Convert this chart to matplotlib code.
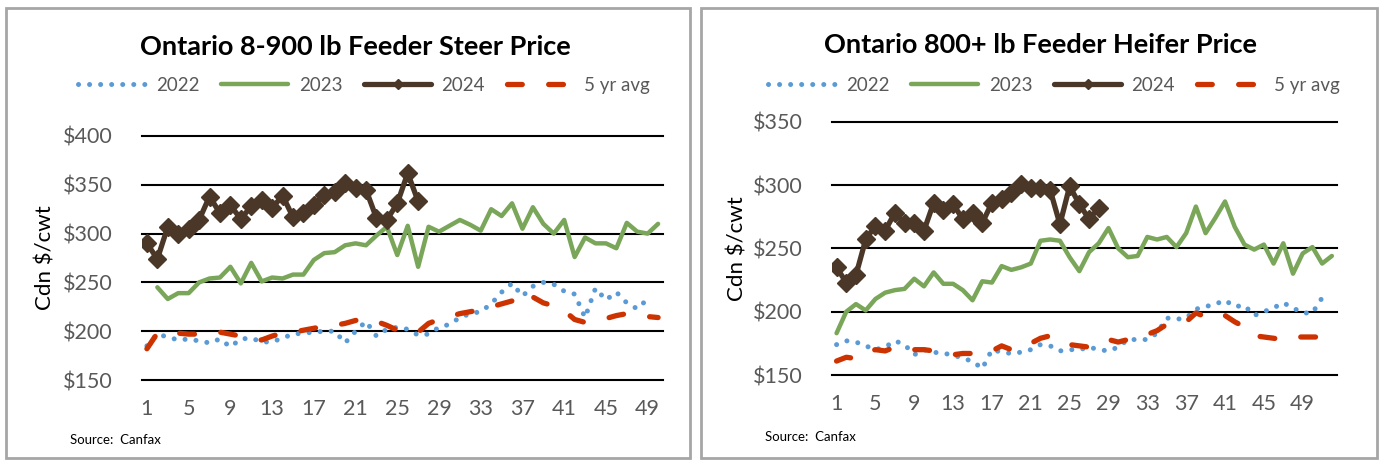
import matplotlib
matplotlib.use("Agg")
import matplotlib.pyplot as plt
from matplotlib.patches import Rectangle
from matplotlib.lines import Line2D

plt.rcParams['font.family'] = ['Lato', 'DejaVu Sans']

# ---- data (weekly prices, Cdn $/cwt) ----
# steer chart runs over 50 weeks, heifer chart over 52
steer_2022 = [185, 197, 194, 191, 192, 190, 188, 192, 184, 192, 193, 189, 189, 193,
              197, 198, 199, 200, 200, 188, 200, 210, 195, 202, 204, 202, 196, 197,
              204, 207, 214, 218, 220, 228, 240, 249, 236, 246, 250, 248, 241, 238,
              214, 244, 232, 240, 229, 223, 233]
steer_2023 = [None, 245, 233, 239, 239, 250, 254, 255, 266, 249, 270, 251, 255, 254,
              258, 258, 273, 280, 281, 288, 290, 288, 298, 307, 278, 308, 266, 307,
              302, 308, 314, 309, 303, 325, 318, 331, 305, 327, 310, 300, 314, 276,
              296, 290, 290, 285, 311, 302, 300, 310]
steer_2024 = [290, 274, 307, 300, 305, 314, 338, 321, 329, 315, 328, 334, 326, 339,
              317, 321, 329, 340, 343, 352, 347, 345, 316, 314, 331, 362, 333]
steer_avg = [182, 198, 198, 198, 197, 197, 198, 199, 197, 195, 192, 191, 195, 198,
             199, 201, 203, 205, 206, 208, 211, 213, 210, 206, 201, 200, 199, 208,
             212, 215, 218, 220, 222, 225, 228, 231, 226, 235, 229, 226, 221, 212,
             209, 211, 213, 216, 218, 216, 215, 214]

heifer_2022 = [174, 177, 176, 173, 170, 172, 177, 174, 166, 170, 168, 167, 166, 163,
               161, 155, 170, 168, 167, 168, 170, 174, 173, 169, 170, 170, 172, 170,
               169, 172, 178, 178, 178, 183, 195, 194, 195, 202, 204, 206, 209, 204,
               205, 197, 200, 203, 207, 203, 199, 199, 211]
heifer_2023 = [183, 200, 206, 201, 210, 215, 217, 218, 226, 220, 231, 222, 222, 217,
               209, 224, 223, 236, 233, 235, 238, 256, 257, 256, 243, 232, 247, 254,
               266, 250, 243, 244, 259, 257, 259, 251, 262, 283, 262, 274, 287, 267,
               253, 249, 253, 238, 254, 230, 246, 251, 238, 244]
heifer_2024 = [235, 223, 229, 257, 268, 264, 278, 270, 270, 264, 286, 280, 285, 273,
               278, 270, 286, 289, 294, 301, 298, 298, 296, 269, 299, 285, 273, 282]
heifer_avg = [161, 164, 163, 168, 170, 169, 172, 170, 170, 170, 169, 167, 166, 167,
              167, 168, 169, 173, 170, 171, 175, 179, 181, 177, 174, 173, 172, 174,
              178, 176, 178, 180, 182, 185, 190, 191, 192, 199, 196, 199, 197, 192,
              188, 181, 180, 179, 178, 180, 180, 180, 180, 180]

week_ticks = list(range(1, 50, 4))
series_labels = ['2022', '2023', '2024', '5 yr avg']

C_BLUE = '#5B9BD5'
C_GREEN = '#7AA65A'
C_BROWN = '#4A3728'
C_RED = '#CC3300'
C_TXT = '#595959'

W, H = 1380, 461
fig = plt.figure(figsize=(W / 100, H / 100), dpi=100)

# panel borders
for x0, x1 in [(6, 690), (701, 1377)]:
    fig.patches.append(Rectangle((x0 / W, 1 - 458 / H), (x1 - x0) / W, 450 / H,
                                 transform=fig.transFigure, fill=False,
                                 edgecolor='#A6A6A6', lw=2))


def panel(rect, n_weeks, title, title_xy, ylim, yticks, ylab_x, legend_y, legend_x,
          src_xy, d22, d23, d24, davg):
    l, t, r, b = rect
    ax = fig.add_axes([l / W, 1 - b / H, (r - l) / W, (b - t) / H])
    wk = lambda d: list(range(1, len(d) + 1))

    ax.plot(wk(d22), d22, color=C_BLUE, lw=3.6, ls=(0, (0.01, 2.2)),
            dash_capstyle='round', zorder=3)
    ax.plot(wk(d23), d23, color=C_GREEN, lw=3.2, zorder=4,
            solid_capstyle='round', solid_joinstyle='round')
    ax.plot(wk(d24), d24, color=C_BROWN, lw=3.8, marker='D', ms=9,
            zorder=5, solid_joinstyle='round')
    ax.plot(wk(davg), davg, color=C_RED, lw=3.8, ls=(0, (2.8, 5.0)),
            dash_capstyle='round', zorder=3)

    ax.set_xlim(0.5, n_weeks + 0.5)
    ax.set_ylim(*ylim)
    for v in yticks:
        ax.axhline(v, color='black', lw=1.5, zorder=1, clip_on=False)
    ax.set_yticks(yticks)
    ax.set_yticklabels([f'${v}' for v in yticks])
    ax.set_xticks(week_ticks)
    ax.tick_params(length=0, labelsize=15.5, labelcolor=C_TXT)
    ax.tick_params(axis='y', pad=21)
    ax.tick_params(axis='x', pad=14)
    for s in ax.spines.values():
        s.set_visible(False)

    fig.text(title_xy[0] / W, 1 - title_xy[1] / H, title, ha='center', va='center',
             fontsize=19.5, fontweight='bold')
    fig.text(ylab_x / W, 1 - ((t + b) / 2) / H, 'Cdn $/cwt', rotation=90,
             ha='center', va='center', fontsize=16)
    fig.text(src_xy[0] / W, 1 - src_xy[1] / H, 'Source:  Canfax', ha='left',
             va='center', fontsize=9.5)

    handles = [
        Line2D([], [], color=C_BLUE, lw=3.6, ls=(0, (0.01, 2.2)), dash_capstyle='round'),
        Line2D([], [], color=C_GREEN, lw=3.2, solid_capstyle='round'),
        Line2D([], [], color=C_BROWN, lw=3.8, marker='D', ms=5, solid_capstyle='round'),
        Line2D([], [], color=C_RED, lw=3.8, ls=(0, (2.8, 5.0)), dash_capstyle='round'),
    ]
    leg = fig.legend(handles, series_labels, loc='center left', ncol=4,
                     bbox_to_anchor=(legend_x / W, 1 - legend_y / H), frameon=False,
                     fontsize=13.5, handlelength=3.6, handletextpad=0.55,
                     columnspacing=1.15, borderpad=0, borderaxespad=0)
    for txt in leg.get_texts():
        txt.set_color(C_TXT)
    return ax


panel((141.7, 136, 663.3, 380), 50, 'Ontario 8-900 lb Feeder Steer Price', (355, 47),
      (150, 400), [150, 200, 250, 300, 350, 400], 45, 85, 78, (70, 440),
      steer_2022, steer_2023, steer_2024, steer_avg)
panel((831.7, 121.7, 1336.7, 375), 52, 'Ontario 800+ lb Feeder Heifer Price', (1040, 45),
      (150, 350), [150, 200, 250, 300, 350], 738, 85, 768, (765, 437),
      heifer_2022, heifer_2023, heifer_2024, heifer_avg)

fig.savefig('out.png', dpi=100)
